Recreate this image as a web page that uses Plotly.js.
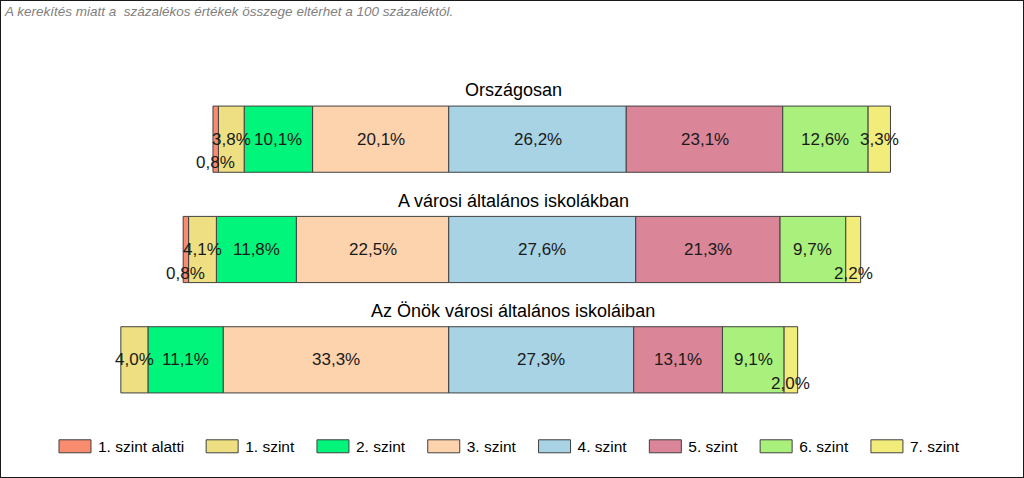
<!DOCTYPE html>
<html><head><meta charset="utf-8">
<script src="https://cdn.plot.ly/plotly-3.0.1.min.js"></script>
<style>html,body{margin:0;padding:0;background:#fff}#chart{width:1022px;height:476px;border:1px solid #1a1a1a;}</style>
</head><body><div id="chart"></div>
<script>
const categories = ["Országosan", "A városi általános iskolákban", "Az Önök városi általános iskoláiban"];
const levels = ["1. szint alatti", "1. szint", "2. szint", "3. szint", "4. szint", "5. szint", "6. szint", "7. szint"];
const colors = ["#F98C6F", "#EDDF82", "#00F57A", "#FDD3AE", "#A7D3E5", "#DB8599", "#AAF07C", "#F2EC7A"];
const belowLevel1 = [0.8, 0.8, 0.0];
const level1 = [3.8, 4.1, 4.0];
const level2 = [10.1, 11.8, 11.1];
const level3 = [20.1, 22.5, 33.3];
const level4 = [26.2, 27.6, 27.3];
const level5 = [23.1, 21.3, 13.1];
const level6 = [12.6, 9.7, 9.1];
const level7 = [3.3, 2.2, 2.0];
const note = "A kerekítés miatt a\u00a0 százalékos értékek összege eltérhet a 100 százaléktól.";

const series = [belowLevel1, level1, level2, level3, level4, level5, level6, level7];
const NEG = 4; // levels below 4. szint extend to the left of zero
const FONT = "Liberation Sans, Arial, sans-serif";

const order = [3, 2, 1, 0, 4, 5, 6, 7];
const traces = order.map(j => ({
  type: 'bar', orientation: 'h', name: levels[j],
  y: categories,
  x: series[j].map(v => j < NEG ? -v : v),
  width: 0.6,
  marker: {color: colors[j], line: {color: '#404040', width: 1}},
  legendrank: j + 1,
  hoverinfo: 'skip'
}));

const annotations = [];
categories.forEach((c, i) => {
  annotations.push({
    text: c, x: 0.467, xref: 'paper', y: c, yref: 'y', yanchor: 'bottom',
    yshift: 37, showarrow: false, font: {family: FONT, size: 18, color: '#000'}
  });
  series.forEach((s, j) => {
    const v = s[i];
    if (!v) return;
    let center;
    if (j < NEG) {
      let outer = 0;
      for (let k = j + 1; k < NEG; k++) outer += series[k][i];
      center = -(outer + v / 2);
    } else {
      let inner = 0;
      for (let k = NEG; k < j; k++) inner += series[k][i];
      center = inner + v / 2;
    }
    annotations.push({
      text: v.toFixed(1).replace('.', ',') + '%',
      x: center, y: c, xref: 'x', yref: 'y', showarrow: false,
      yshift: v < 3 ? -23.5 : 0,
      font: {family: FONT, size: 17, color: '#1a1a1a'}
    });
  });
});
annotations.push({
  text: '<i>' + note + '</i>', xref: 'paper', yref: 'paper',
  x: -0.125, y: 1.2202, xanchor: 'left', yanchor: 'middle', showarrow: false,
  font: {family: FONT, size: 13.5, color: '#808080'}
});

const layout = {
  width: 1022, height: 476,
  margin: {l: 109, r: 50, t: 83, b: 62},
  barmode: 'relative', bargap: 0,
  paper_bgcolor: '#fff', plot_bgcolor: '#fff',
  font: {family: FONT, color: '#000'},
  xaxis: {range: [-50, 77.38], visible: false, fixedrange: true},
  yaxis: {type: 'category', categoryorder: 'array', categoryarray: categories,
          range: [2.5, -0.5], visible: false, fixedrange: true},
  showlegend: true,
  legend: {orientation: 'h', xref: 'paper', yref: 'paper',
           x: -0.0788, xanchor: 'left', y: -0.0958, yanchor: 'middle',
           itemwidth: 46, traceorder: 'normal',
           font: {family: FONT, size: 15.5, color: '#000'}},
  annotations: annotations
};

function widenSwatches() {
  // wider rectangular legend swatches, as in the original
  document.querySelectorAll('#chart g.legend g.legendpoints path').forEach(p => {
    p.setAttribute('d', 'M21,6.5H-11V-6.5H21Z');
  });
}
const gd = document.getElementById('chart');
Plotly.newPlot(gd, traces, layout, {displayModeBar: false, staticPlot: true}).then(() => {
  widenSwatches();
  gd.on('plotly_afterplot', widenSwatches);
  setTimeout(widenSwatches, 50);
  setTimeout(widenSwatches, 300);
});
</script></body></html>
